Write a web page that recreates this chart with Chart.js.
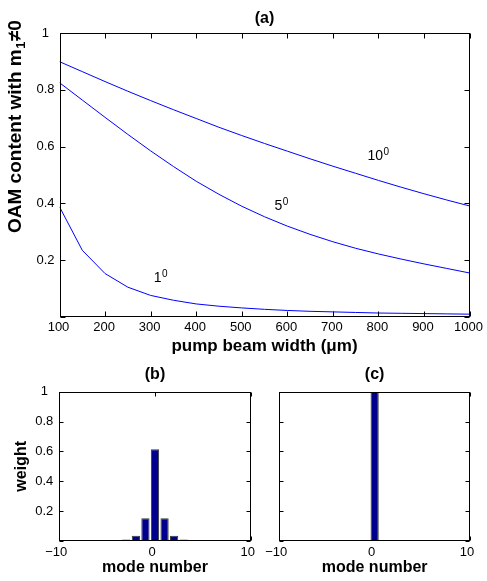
<!DOCTYPE html>
<html>
<head>
<meta charset="utf-8">
<script src="https://cdn.jsdelivr.net/npm/chart.js@4.4.1/dist/chart.umd.min.js"></script>
<style>
html,body{margin:0;padding:0;background:#fff;}
#wrap{position:relative;width:487px;height:581px;overflow:hidden;}
canvas{position:absolute;}
</style>
</head>
<body>
<div id="wrap">
  <canvas id="chartA" width="487" height="360" style="left:0;top:0"></canvas>
  <canvas id="chartB" width="262" height="221" style="left:0;top:360px"></canvas>
  <canvas id="chartC" width="225" height="221" style="left:262px;top:360px"></canvas>
</div>
<script>
// (a) OAM content vs pump beam width, one curve per angle
const beamWidth = [100,150,200,250,300,350,400,450,500,550,600,650,700,750,800,850,900,950,1000];
const oam10deg = [0.899,0.864,0.829,0.795,0.762,0.730,0.699,0.668,0.639,0.611,0.584,0.557,0.531,0.506,0.481,0.457,0.434,0.412,0.391];
const oam5deg  = [0.825,0.764,0.703,0.643,0.585,0.530,0.478,0.432,0.390,0.353,0.320,0.291,0.265,0.242,0.222,0.204,0.187,0.171,0.155];
const oam1deg  = [0.388,0.235,0.153,0.105,0.076,0.059,0.046,0.038,0.032,0.027,0.023,0.020,0.018,0.016,0.014,0.013,0.012,0.011,0.010];
const angleText = ['10','5','1'];
const angleAtX  = [776, 572, 307];
const angleAtY  = [0.552, 0.377, 0.125];
const xTicksA = [100, 1000, 100];   // min, max, step
const yTicks  = [0, 1, 0.2];

// (b), (c) mode weights
const modes   = [-10,-9,-8,-7,-6,-5,-4,-3,-2,-1,0,1,2,3,4,5,6,7,8,9,10];
const weightB = [0,0,0,0,0,0,0.001,0.010,0.036,0.152,0.615,0.152,0.036,0.010,0.001,0,0,0,0,0,0];
const weightC = [0,0,0,0,0,0,0,0,0,0.003,1,0.003,0,0,0,0,0,0,0,0,0];
const xTicksBC = [-10, 10, 10];

const FONT = "'Liberation Sans', Arial, Helvetica, sans-serif";
Chart.defaults.font.family = FONT;
Chart.defaults.color = '#000';
Chart.defaults.animation = false;

const fmtY = v => v === 0 ? '' : String(+v.toFixed(1));
const fmtX = v => String(v).replace('-', '\u2212');

function axis(pos, range, size, extra){
  const horiz = pos === 'top' || pos === 'bottom';
  const a = {
    type: 'linear', position: pos, min: range[0], max: range[1], offset: false,
    ticks: { stepSize: range[2], display: true, font: { size: 13 }, maxRotation: 0, autoSkip: false },
    grid: { display: false, drawTicks: false, offset: false },
    border: { display: false },
    afterFit: s => { if (horiz) s.height = size; else s.width = size; }
  };
  return Object.assign(a, extra || {});
}

// matlab box: frame + inward ticks on all four sides, at the scales' ticks
const boxFrame = {
  id: 'boxFrame',
  afterDraw(chart, args, opts){
    const { ctx, chartArea } = chart;
    const L = Math.round(chartArea.left) + 0.5, R = Math.round(chartArea.right) - 0.5;
    const T = Math.round(chartArea.top) + 0.5, B = Math.round(chartArea.bottom) - 0.5;
    const len = opts.len || 5;
    const sx = chart.scales.x, sy = chart.scales.y;
    ctx.save();
    ctx.strokeStyle = '#000';
    ctx.lineWidth = 1;
    ctx.beginPath();
    sx.ticks.forEach(t => {
      const p = Math.round(sx.getPixelForValue(t.value)) + 0.5;
      ctx.moveTo(p, B); ctx.lineTo(p, B - len);
      ctx.moveTo(p, T); ctx.lineTo(p, T + len);
    });
    sy.ticks.forEach(t => {
      const p = Math.round(sy.getPixelForValue(t.value)) + 0.5;
      ctx.moveTo(L, p); ctx.lineTo(L + len, p);
      ctx.moveTo(R, p); ctx.lineTo(R - len, p);
    });
    ctx.stroke();
    ctx.strokeRect(L, T, R - L, B - T);
    ctx.restore();
  }
};

const curveLabels = {
  id: 'curveLabels',
  afterDatasetsDraw(chart){
    const { ctx, scales: { x, y } } = chart;
    ctx.save();
    ctx.fillStyle = '#000';
    ctx.textBaseline = 'alphabetic';
    ctx.textAlign = 'left';
    angleText.forEach((t, i) => {
      const px = x.getPixelForValue(angleAtX[i]), py = y.getPixelForValue(angleAtY[i]);
      ctx.font = '14px ' + FONT;
      ctx.fillText(t, px, py);
      const w = ctx.measureText(t).width;
      ctx.font = '10px ' + FONT;
      ctx.fillText('0', px + w + 0.5, py - 5);
    });
    ctx.restore();
  }
};

const yTitleA = {
  id: 'yTitleA',
  afterDraw(chart){
    const ctx = chart.ctx;
    ctx.save();
    ctx.translate(21, 233);
    ctx.rotate(-Math.PI / 2);
    ctx.fillStyle = '#000';
    ctx.textAlign = 'left';
    ctx.textBaseline = 'alphabetic';
    ctx.font = 'bold 19px ' + FONT;
    let cx = 0;
    const main = 'OAM content with m';
    ctx.fillText(main, cx, 0); cx += ctx.measureText(main).width + 0.5;
    ctx.font = 'bold 13px ' + FONT;
    ctx.fillText('1', cx, 4); cx += ctx.measureText('1').width + 0.5;
    ctx.font = 'bold 19px ' + FONT;
    ctx.fillText('\u22600', cx, 0);
    ctx.restore();
  }
};

const lineDs = (vals) => ({
  data: beamWidth.map((w, i) => ({ x: w, y: vals[i] })),
  borderColor: '#0000ff', borderWidth: 1, pointRadius: 0, tension: 0, fill: false
});

new Chart(document.getElementById('chartA'), {
  type: 'line',
  data: { datasets: [lineDs(oam10deg), lineDs(oam5deg), lineDs(oam1deg)] },
  options: {
    responsive: false,
    layout: { padding: { left: 0, right: 17, top: 0, bottom: 0 } },
    plugins: {
      legend: { display: false }, tooltip: { enabled: false },
      title: { display: true, text: '(a)', fullSize: false, font: { size: 16, weight: 'bold' }, padding: { top: 9.4, bottom: 4.4 } },
      boxFrame: { len: 5 }
    },
    scales: {
      x: axis('bottom', xTicksA, 43, {
        ticks: { stepSize: 100, font: { size: 13 }, padding: 3, maxRotation: 0, autoSkip: false, labelOffset: -1, callback: fmtX },
        title: { display: true, text: 'pump beam width (\u03bcm)', font: { size: 17, weight: 'bold' }, padding: { top: 0, bottom: 3 } }
      }),
      y: axis('left', yTicks, 59.5, {
        ticks: { stepSize: 0.2, font: { size: 13 }, padding: 5, crossAlign: 'center', callback: fmtY }
      })
    }
  },
  plugins: [curveLabels, boxFrame, yTitleA]
});

function barChart(id, vals, title, showY, leftW, rightPad){
  const scales = {
    x: axis('bottom', xTicksBC, 40, {
      ticks: { stepSize: 10, font: { size: 13 }, padding: 4, maxRotation: 0, autoSkip: false, labelOffset: -3, callback: fmtX },
      title: { display: true, text: 'mode number', font: { size: 16, weight: 'bold' }, padding: { top: 0, bottom: 4 } }
    }),
    y: axis('left', yTicks, leftW, showY ? {
      ticks: { stepSize: 0.2, font: { size: 13 }, padding: 6, crossAlign: 'center', callback: fmtY },
      title: { display: true, text: 'weight', font: { size: 16, weight: 'bold' }, padding: { top: 12, bottom: 0 } }
    } : { ticks: { stepSize: 0.2, display: false } })
  };
  return new Chart(document.getElementById(id), {
    type: 'bar',
    data: { datasets: [{
      data: modes.map((m, i) => ({ x: m, y: vals[i] })),
      backgroundColor: '#00008f', borderColor: '#3a3a3a', borderWidth: 1,
      barPercentage: 0.86, categoryPercentage: 1
    }] },
    options: {
      responsive: false,
      layout: { padding: { left: 0, right: rightPad, top: 0, bottom: 0 } },
      plugins: {
        legend: { display: false }, tooltip: { enabled: false },
        title: { display: true, text: title, fullSize: false, font: { size: 16, weight: 'bold' }, padding: { top: 5.4, bottom: 7.1 } },
        boxFrame: { len: 4 }
      },
      scales
    },
    plugins: [boxFrame]
  });
}

barChart('chartB', weightB, '(b)', true, 59.3, 11.3);
barChart('chartC', weightC, '(c)', false, 17.3, 17);
</script>
</body>
</html>
